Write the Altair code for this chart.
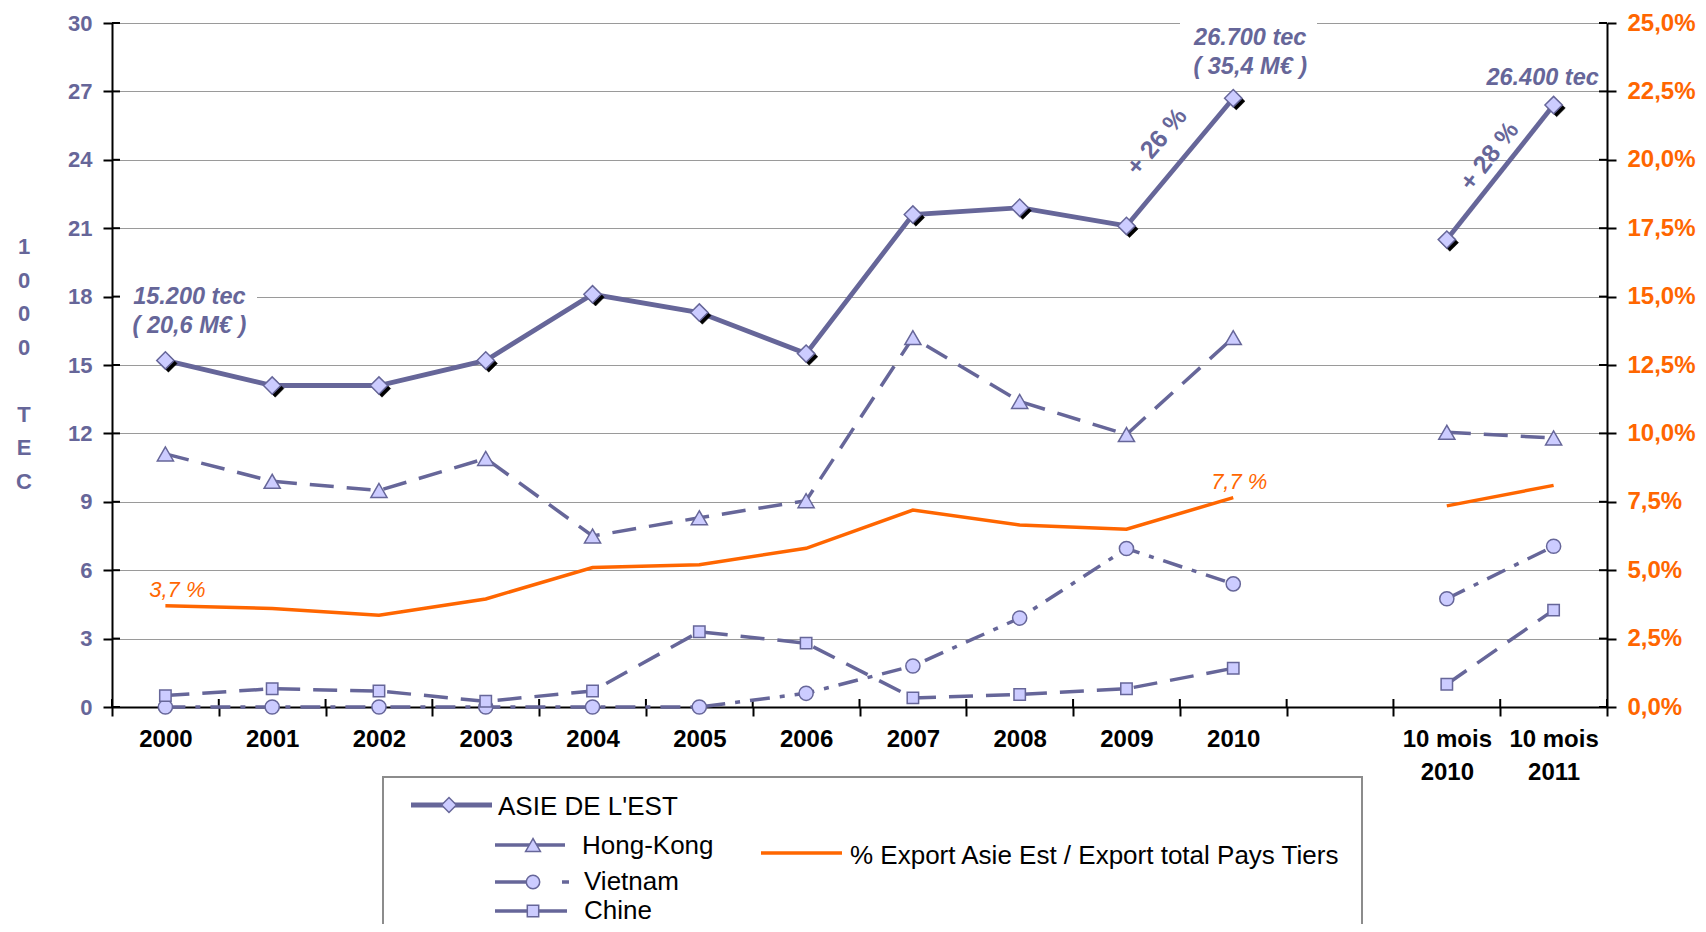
import altair as alt
import pandas as pd

# ---------------- data ----------------
categories = ["2000", "2001", "2002", "2003", "2004", "2005", "2006", "2007",
              "2008", "2009", "2010", "10 mois 2010", "10 mois 2011"]
gap_label = "gap"
asie_est = [15.2, 14.1, 14.1, 15.2, 18.1, 17.3, 15.5, 21.6, 21.9, 21.1, 26.7, 20.5, 26.4]
hong_kong = [11.1, 9.9, 9.5, 10.9, 7.5, 8.3, 9.05, 16.2, 13.4, 11.95, 16.2, 12.05, 11.8]
vietnam = [0.0, 0.0, 0.0, 0.0, 0.0, 0.0, 0.6, 1.8, 3.9, 6.95, 5.4, 4.75, 7.05]
chine = [0.5, 0.8, 0.7, 0.25, 0.7, 3.3, 2.8, 0.4, 0.55, 0.8, 1.7, 1.0, 4.25]
pct_export = [3.7, 3.6, 3.35, 3.95, 5.1, 5.2, 5.8, 7.2, 6.65, 6.5, 7.65, 7.35, 8.1]
segments = ["annuel"] * 11 + ["10 mois"] * 2

left_ticks = [0, 3, 6, 9, 12, 15, 18, 21, 24, 27, 30]
right_ticks = [0, 2.5, 5, 7.5, 10, 12.5, 15, 17.5, 20, 22.5, 25]
y_title_top = ["1", "0", "0", "0"]
y_title_bottom = ["T", "E", "C"]

domain = categories[:11] + [gap_label] + categories[11:]

df = pd.DataFrame({
    "cat": categories, "seg": segments,
    "asie": asie_est, "hk": hong_kong, "vn": vietnam, "cn": chine, "pct": pct_export,
})
one = pd.DataFrame({"k": [0]})
bounds = pd.DataFrame({"cat": domain})
lt_df = pd.DataFrame({"v": left_ticks})
rt_df = pd.DataFrame({"v": right_ticks})

PURPLE = "#666699"
LIGHT = "#ccccff"
ORANGE = "#ff6600"
FONT = "Liberation Sans"

W, H = 1495, 684

xscale = alt.Scale(type="band", domain=domain, paddingInner=0, paddingOuter=0)
xaxis = alt.Axis(
    title=None, labelAngle=0, tickBand="extent",
    labelExpr="datum.label == 'gap' ? '' : (indexof(datum.label, 'mois') >= 0 ? ['10 mois', slice(datum.label, 8)] : datum.label)",
    labelFont=FONT, labelFontSize=24, labelFontWeight="bold", labelColor="black",
    labelPadding=11, labelLineHeight=33, labelBaseline="top",
    tickSize=9, tickColor="black", tickWidth=2,
    domainColor="black", domainWidth=2, grid=False,
)


def X(band=0.5):
    return alt.X("cat:N", scale=xscale, axis=xaxis, bandPosition=band, sort=domain)


yl_scale = alt.Scale(domain=[0, 30], nice=False)
yl_axis = alt.Axis(
    values=left_ticks, title=None,
    labelFont=FONT, labelFontSize=22, labelFontWeight="bold", labelColor=PURPLE,
    labelPadding=11, tickSize=9, tickColor="black", tickWidth=2,
    domainColor="black", domainWidth=2,
    grid=True, gridColor="#9a9a9a", gridWidth=1,
)


def YL(field):
    return alt.Y(f"{field}:Q", scale=yl_scale, axis=yl_axis)


yr_scale = alt.Scale(domain=[0, 25], nice=False)
yr_axis = alt.Axis(
    orient="right", values=right_ticks, title=None,
    labelExpr="replace(format(datum.value, '.1f'), '.', ',') + '%'",
    labelFont=FONT, labelFontSize=24, labelFontWeight="bold", labelColor=ORANGE,
    labelPadding=11, tickSize=9, tickColor="black", tickWidth=2,
    domainColor="black", domainWidth=2, grid=False,
)


def YR(field):
    return alt.Y(f"{field}:Q", scale=yr_scale, axis=yr_axis)


base = alt.Chart(df)

marker = dict(filled=True, fill=LIGHT, stroke=PURPLE, strokeWidth=1.5, opacity=1)
shadow_path = "M0.35,-0.65L1.35,0.35L0.35,1.35L-0.65,0.35Z"

# vertical axis title "1000 TEC", one letter per line
title_style = dict(font=FONT, fontSize=22, fontWeight="bold", color=PURPLE,
                   align="center", baseline="middle", lineHeight=33.5)
title1 = alt.Chart(one).mark_text(text=y_title_top, **title_style).encode(
    x=alt.value(-88), y=alt.value(224))
title2 = alt.Chart(one).mark_text(text=y_title_bottom, **title_style).encode(
    x=alt.value(-88), y=alt.value(224 + 5 * 33.5))

# white boxes behind the value labels (interrupt gridlines)
white1 = alt.Chart(one).mark_rect(fill="white").encode(
    x=alt.value(2), x2=alt.value(145), y=alt.value(262), y2=alt.value(286))
white2 = alt.Chart(one).mark_rect(fill="white").encode(
    x=alt.value(1068), x2=alt.value(1205), y=alt.value(-4), y2=alt.value(6))

# inner halves of the crossing axis ticks
xt_in = alt.Chart(bounds).mark_rule(color="black", strokeWidth=2).encode(
    x=X(0), y=alt.value(H - 8), y2=alt.value(H))
xt_end = alt.Chart(bounds).transform_filter(alt.datum.cat == domain[-1]).mark_rule(
    color="black", strokeWidth=2).encode(x=X(1), y=alt.value(H - 8), y2=alt.value(H))
yl_in = alt.Chart(lt_df).mark_rule(color="black", strokeWidth=2).encode(
    y=YL("v"), x=alt.value(0), x2=alt.value(8))

hk_line = base.mark_line(stroke=PURPLE, strokeWidth=3.5, strokeDash=[24, 13]).encode(
    x=X(), y=YL("hk"), detail="seg:N")
hk_pts = base.mark_point(shape="triangle-up", size=260, **marker).encode(x=X(), y=YL("hk"))

vn_line = base.mark_line(stroke=PURPLE, strokeWidth=3.5, strokeDash=[20, 10, 5, 10]).encode(
    x=X(), y=YL("vn"), detail="seg:N")
vn_pts = base.mark_point(shape="circle", size=200, **marker).encode(x=X(), y=YL("vn"))

cn_line = base.mark_line(stroke=PURPLE, strokeWidth=3.5, strokeDash=[24, 13]).encode(
    x=X(), y=YL("cn"), detail="seg:N")
cn_pts = base.mark_point(shape="square", size=130, **marker).encode(x=X(), y=YL("cn"))

asie_line = base.mark_line(stroke=PURPLE, strokeWidth=4.8).encode(
    x=X(), y=YL("asie"), detail="seg:N")
asie_shadow = base.mark_point(shape=shadow_path, size=300, filled=True, fill="black",
                              stroke="black", strokeWidth=0.5, opacity=1).encode(x=X(), y=YL("asie"))
asie_pts = base.mark_point(shape="diamond", size=300, **marker).encode(x=X(), y=YL("asie"))

ann_style = dict(font=FONT, fontSize=23.5, fontWeight="bold", fontStyle="italic", color=PURPLE,
                 align="center", baseline="middle", lineHeight=29)
t2000 = base.transform_filter(alt.datum.cat == "2000").mark_text(
    text=["15.200 tec", "( 20,6 M€ )"], dx=24, dy=-63, **ann_style).encode(x=X(), y=YL("asie"))
t2010 = base.transform_filter(alt.datum.cat == "2010").mark_text(
    text=["26.700 tec", "( 35,4 M€ )"], dx=17, dy=-60, **ann_style).encode(x=X(), y=YL("asie"))
t2011 = base.transform_filter(alt.datum.cat == "10 mois 2011").mark_text(
    text="26.400 tec", dx=-11, dy=-27, **ann_style).encode(x=X(), y=YL("asie"))

rot_style = dict(font=FONT, fontSize=25, fontWeight="bold", color=PURPLE,
                 align="center", baseline="middle")
g26 = base.transform_filter(alt.datum.cat == "2009").mark_text(
    text="+ 26 %", angle=310, dx=84, dy=-31, **rot_style).encode(x=X(), y=YL("asie"))
g28 = base.transform_filter(alt.datum.cat == "10 mois 2010").mark_text(
    text="+ 28 %", angle=308, dx=92, dy=-18, **rot_style).encode(x=X(), y=YL("asie"))

# ---------------- legend (drawn box) ----------------
leg = []
leg.append(alt.Chart(one).mark_rect(fill="white", stroke="#8c8c8c", strokeWidth=2).encode(
    x=alt.value(271), x2=alt.value(1250), y=alt.value(754), y2=alt.value(990)))
leg_text = dict(font=FONT, fontSize=26, color="black", align="left", baseline="middle")


def leg_line(x1, x2, y, **kw):
    return alt.Chart(one).mark_rule(**kw).encode(
        x=alt.value(x1), x2=alt.value(x2), y=alt.value(y), y2=alt.value(y))


def leg_pt(x, y, **kw):
    return alt.Chart(one).mark_point(**kw).encode(x=alt.value(x), y=alt.value(y))


def leg_txt(x, y, t):
    return alt.Chart(one).mark_text(text=t, **leg_text).encode(x=alt.value(x), y=alt.value(y))


leg += [
    leg_line(299, 380, 782, stroke=PURPLE, strokeWidth=5),
    leg_pt(337, 782, shape="diamond", size=220, **marker),
    leg_txt(386, 784, "ASIE DE L'EST"),
    leg_line(383, 453, 822, stroke=PURPLE, strokeWidth=3.5),
    leg_pt(421, 822, shape="triangle-up", size=220, **marker),
    leg_txt(470, 823, "Hong-Kong"),
    leg_line(383, 415, 859, stroke=PURPLE, strokeWidth=3.5),
    leg_line(450, 457, 859, stroke=PURPLE, strokeWidth=3.5),
    leg_pt(421, 859, shape="circle", size=180, **marker),
    leg_txt(472, 858.5, "Vietnam"),
    leg_line(383, 455, 888, stroke=PURPLE, strokeWidth=3.5),
    leg_pt(421, 888, shape="square", size=130, **marker),
    leg_txt(472, 887.5, "Chine"),
    leg_line(649, 730, 830, stroke=ORANGE, strokeWidth=3.5),
    leg_txt(738, 833, "% Export Asie Est / Export total Pays Tiers"),
]

left = alt.layer(
    title1, title2, white1, white2, xt_in, xt_end, yl_in,
    hk_line, vn_line, cn_line, asie_line,
    hk_pts, vn_pts, cn_pts, asie_shadow, asie_pts,
    t2000, t2010, t2011, g26, g28,
    *leg,
)

pct_style = dict(font=FONT, fontSize=22, fontStyle="italic", color=ORANGE,
                 align="center", baseline="middle")
yr_in = alt.Chart(rt_df).mark_rule(color="black", strokeWidth=2).encode(
    y=YR("v"), x=alt.value(W - 8), x2=alt.value(W))
pct_line = base.mark_line(stroke=ORANGE, strokeWidth=3.5).encode(
    x=X(), y=YR("pct"), detail="seg:N")
p2000 = base.transform_filter(alt.datum.cat == "2000").mark_text(
    text="3,7 %", dx=12, dy=-16, **pct_style).encode(x=X(), y=YR("pct"))
p2010 = base.transform_filter(alt.datum.cat == "2010").mark_text(
    text="7,7 %", dx=6, dy=-16, **pct_style).encode(x=X(), y=YR("pct"))

right = alt.layer(yr_in, pct_line, p2000, p2010)

chart = alt.layer(left, right).resolve_scale(y="independent").properties(
    width=W, height=H,
    padding={"left": 104, "top": 15, "right": 91, "bottom": 217},
    autosize=alt.AutoSizeParams(type="none"),
).configure_view(stroke=None).configure(font=FONT)

chart.save("out.html", embed_options={"renderer": "svg", "actions": False})
